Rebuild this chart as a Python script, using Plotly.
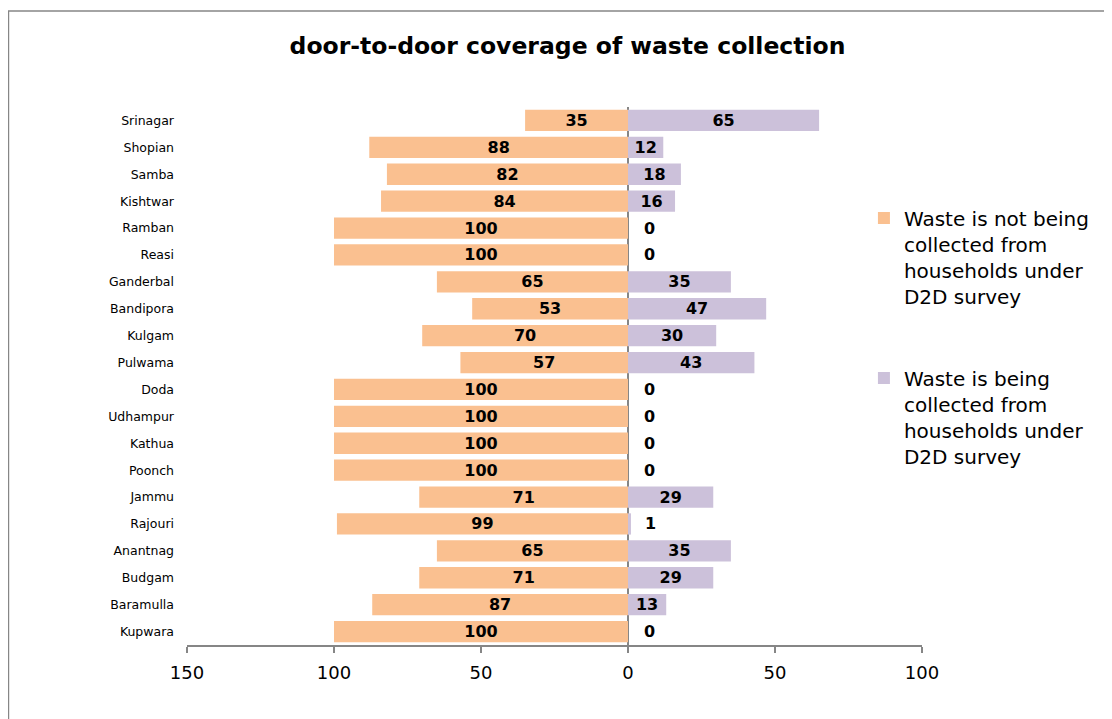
import plotly.graph_objects as go

districts = [
    'Srinagar', 'Shopian', 'Samba', 'Kishtwar', 'Ramban', 'Reasi',
    'Ganderbal', 'Bandipora', 'Kulgam', 'Pulwama', 'Doda', 'Udhampur',
    'Kathua', 'Poonch', 'Jammu', 'Rajouri', 'Anantnag', 'Budgam',
    'Baramulla', 'Kupwara',
]
not_collected = [35, 88, 82, 84, 100, 100, 65, 53, 70, 57,
                 100, 100, 100, 100, 71, 99, 65, 71, 87, 100]
collected = [65, 12, 18, 16, 0, 0, 35, 47, 30, 43,
             0, 0, 0, 0, 29, 1, 35, 29, 13, 0]

tick_vals = [-150, -100, -50, 0, 50, 100]
tick_text = ['150', '100', '50', '0', '50', '100']

orange = '#FAC090'
purple = '#CCC1DA'
grey = '#868686'
font = 'DejaVu Sans'
label_font = dict(family=font, size=16, color='black', weight='bold')

# the page body adds an 8px margin, so the figure is 8px smaller
W, H = 1104, 711


def inside_text(values):
    return [str(v) if v >= 5 else '' for v in values]


fig = go.Figure()
fig.add_trace(go.Bar(
    y=districts,
    x=[-v for v in not_collected],
    orientation='h',
    name='Waste is not being<br>collected from<br>households under<br>D2D survey',
    marker=dict(color=orange, line=dict(width=0)),
    text=inside_text(not_collected),
    textposition='inside',
    insidetextanchor='middle',
    constraintext='none',
    textfont=label_font,
    legendgroup='a',
))
fig.add_trace(go.Bar(
    y=districts,
    x=collected,
    orientation='h',
    name='Waste is being<br>collected from<br>households under<br>D2D survey',
    marker=dict(color=purple, line=dict(width=0)),
    text=inside_text(collected),
    textposition='inside',
    insidetextanchor='middle',
    constraintext='none',
    textfont=label_font,
    legendgroup='b',
))

# small values get their label just right of the bar, like Excel does
annotations = []
for d, v in zip(districts, collected):
    if v < 5:
        annotations.append(dict(
            x=v / 2, y=d, xref='x', yref='y', text=str(v),
            showarrow=False, xanchor='left', xshift=14,
            font=label_font,
        ))

fig.update_layout(
    width=W,
    height=H,
    barmode='relative',
    bargap=0.21,
    paper_bgcolor='white',
    plot_bgcolor='white',
    margin=dict(l=179, r=190, t=99, b=74),
    font=dict(family=font, color='black'),
    title=dict(
        text='<b>door-to-door coverage of waste collection</b>',
        font=dict(family=font, size=23.5, color='black'),
        x=559.5 / W, xanchor='center',
        y=1 - 38 / H, yanchor='middle',
    ),
    legend=dict(
        x=0.921, xanchor='left',
        y=0.83, yanchor='top',
        font=dict(family=font, size=20, color='black'),
        valign='top',
        tracegroupgap=53,
        bgcolor='rgba(0,0,0,0)',
    ),
    showlegend=True,
    annotations=annotations,
    shapes=[dict(
        type='rect', xref='paper', yref='paper',
        x0=-0.2429, x1=1.35, y0=-0.25, y1=1.1784,
        line=dict(color=grey, width=1.5), layer='below',
    )],
)
fig.update_xaxes(
    range=[-150, 100],
    tickvals=tick_vals,
    ticktext=tick_text,
    showgrid=False,
    zeroline=True,
    zerolinecolor=grey,
    zerolinewidth=1.5,
    showline=True,
    linecolor=grey,
    linewidth=1.5,
    ticks='outside',
    ticklen=6,
    tickcolor=grey,
    tickwidth=1.5,
    ticklabelstandoff=5,
    tickfont=dict(family=font, size=18, color='black'),
)
fig.update_yaxes(
    autorange='reversed',
    showgrid=False,
    zeroline=False,
    showline=False,
    ticks='',
    ticklabelstandoff=12,
    tickfont=dict(family=font, size=12.5, color='black'),
)

fig.write_html('out.html')
